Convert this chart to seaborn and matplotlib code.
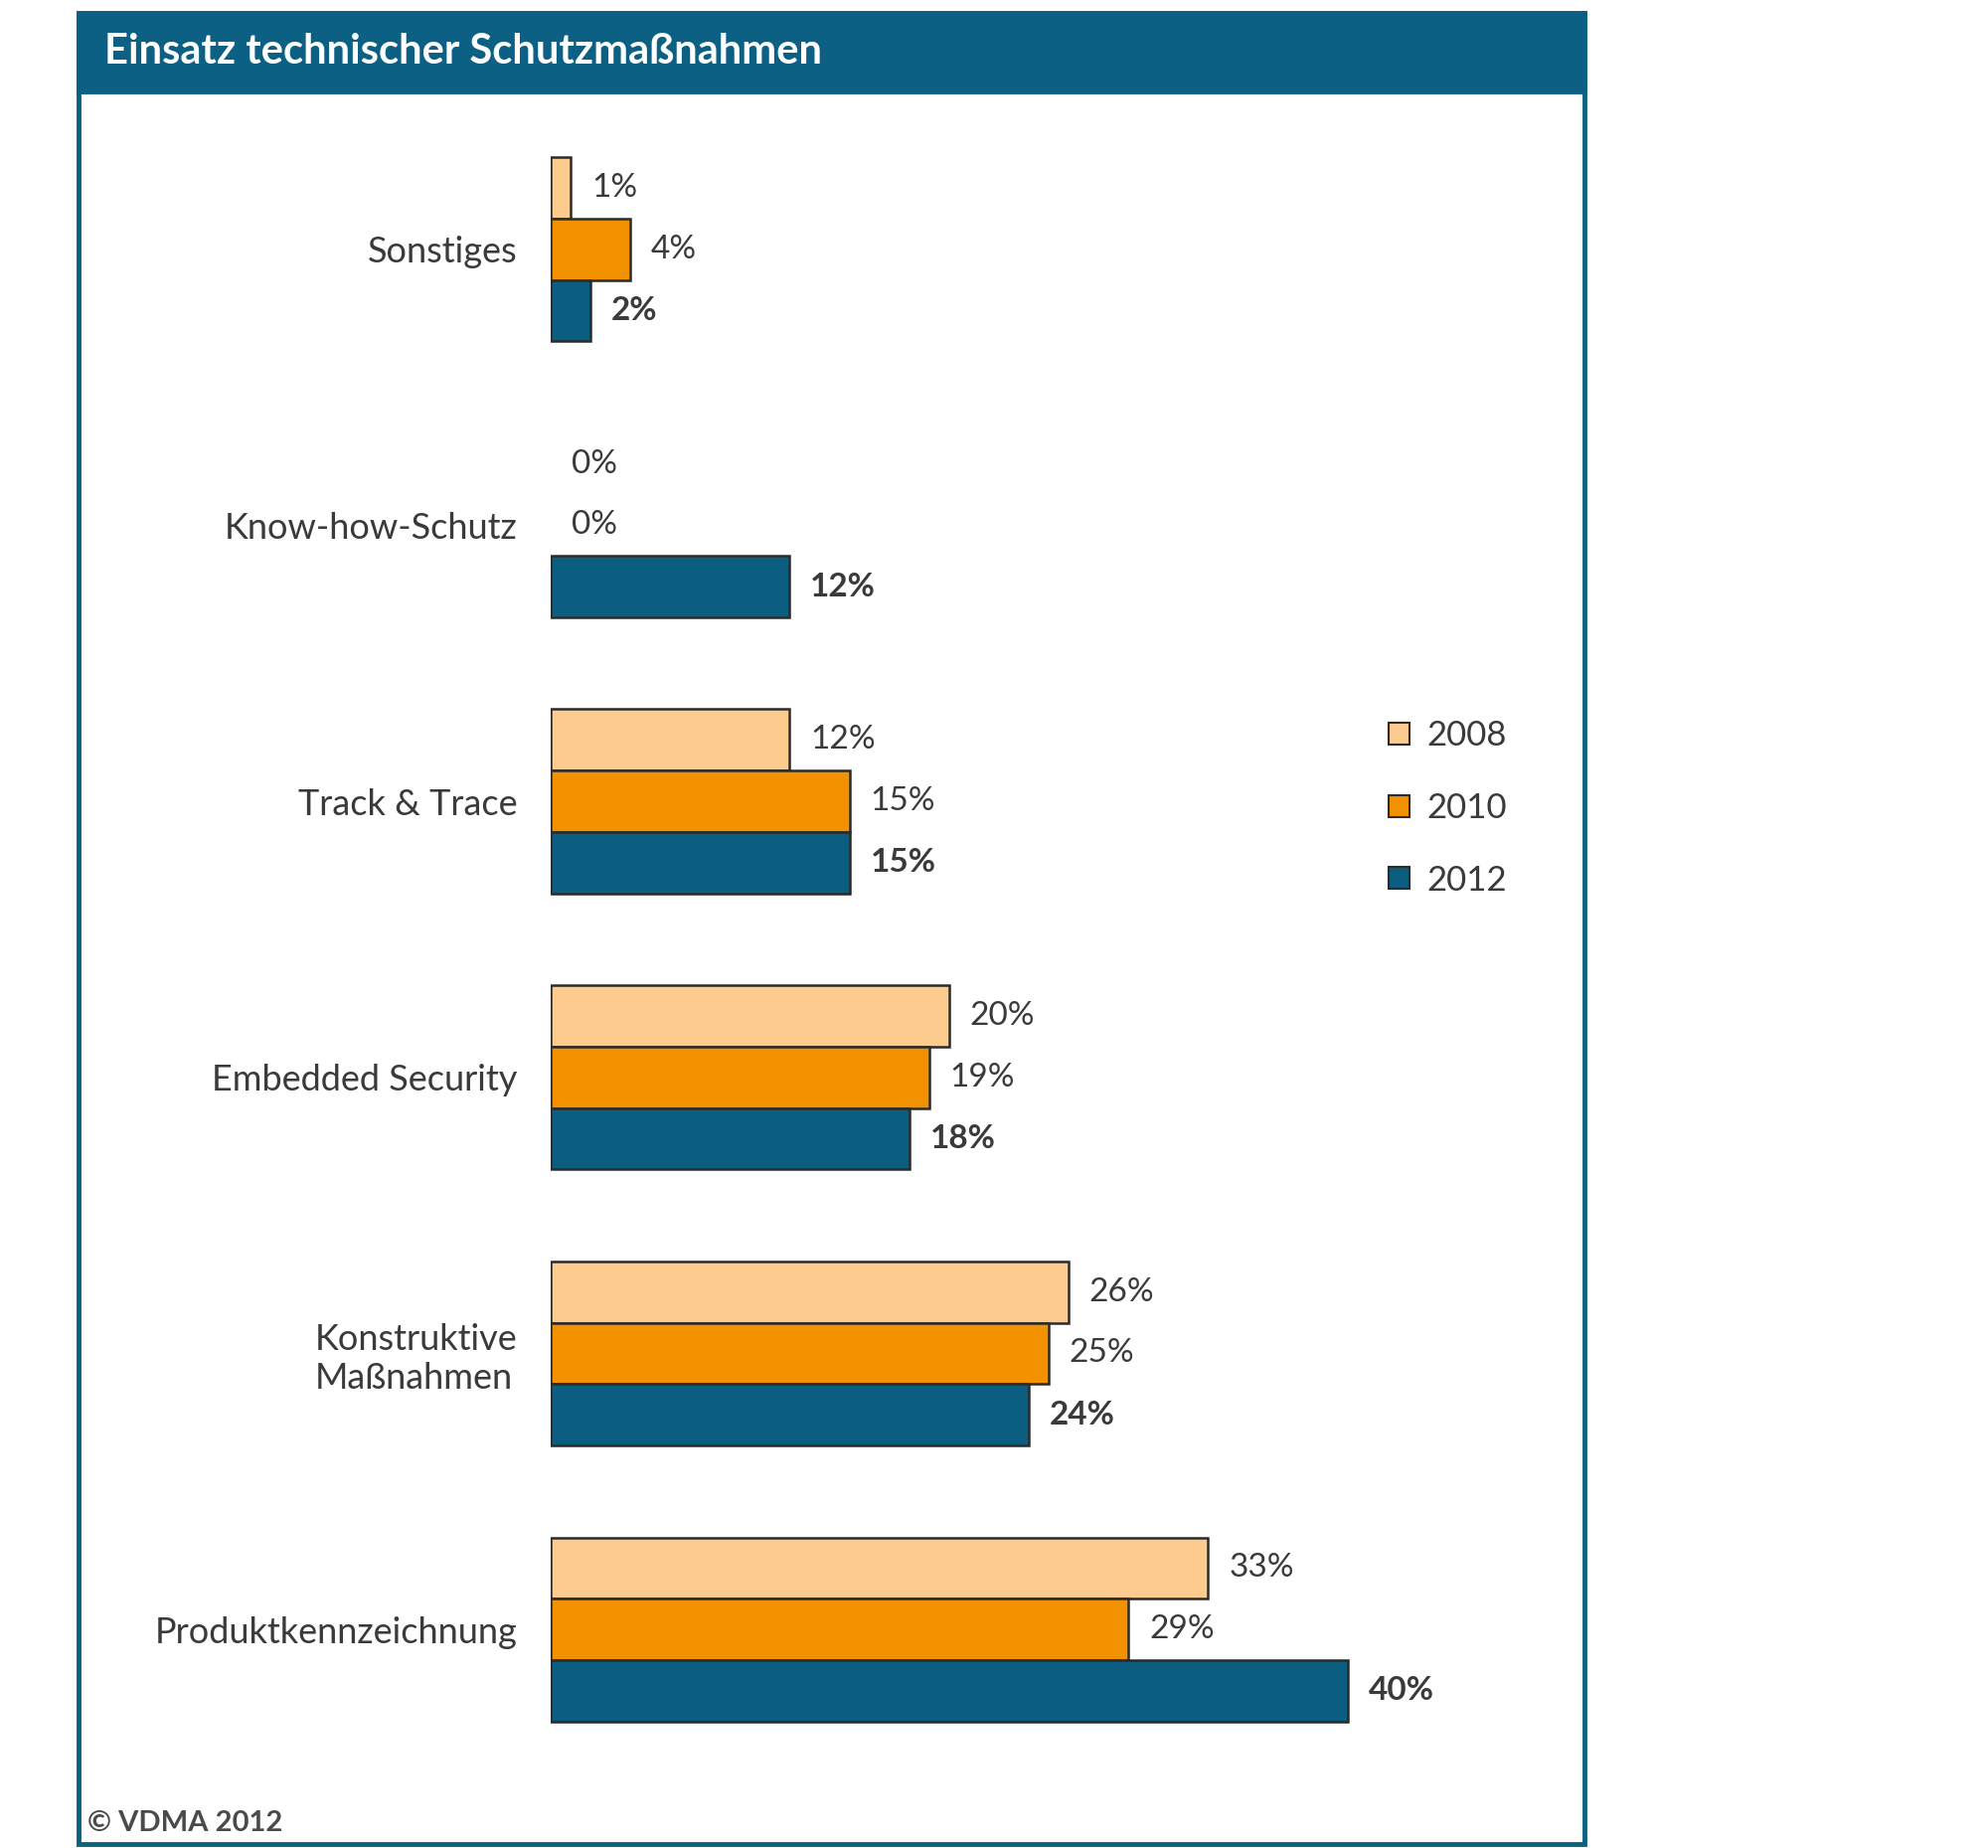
import matplotlib.pyplot as plt
import matplotlib.patches as mpatches
import pandas as pd
import seaborn as sns

categories = ['Sonstiges', 'Know-how-Schutz', 'Track & Trace', 'Embedded Security',
              'Konstruktive\nMaßnahmen', 'Produktkennzeichnung']
years = ['2008', '2010', '2012']
values_2008 = [1, 0, 12, 20, 26, 33]
values_2010 = [4, 0, 15, 19, 25, 29]
values_2012 = [2, 12, 15, 18, 24, 40]

colors = {'2008': '#FCCB8D', '2010': '#F39200', '2012': '#0B5E7F'}
teal = '#0B6084'
text_col = '#3a3a3a'

df = pd.DataFrame({
    'Kategorie': categories * 3,
    'Jahr': ['2008'] * 6 + ['2010'] * 6 + ['2012'] * 6,
    'Anteil': values_2008 + values_2010 + values_2012,
})

sns.set_style('white')
plt.rcParams['font.family'] = ['Lato', 'DejaVu Sans']

fig = plt.figure(figsize=(20, 18.59), dpi=100)
ax = fig.add_axes([0.277, 0.0436, 0.501, 0.8962])

sns.barplot(data=df, y='Kategorie', x='Anteil', hue='Jahr', order=categories,
            hue_order=years, palette=colors, orient='h', width=0.667,
            saturation=1, edgecolor='#2b2b2b', linewidth=1.8, ax=ax, legend=False)

for year, cont in zip(years, ax.containers):
    for bar in cont:
        if bar.get_width() == 0:
            bar.set_linewidth(0)
    ax.bar_label(cont, fmt='%d%%', padding=15, fontsize=24, color=text_col,
                 fontweight='bold' if year == '2012' else 'normal')

ax.set_xlim(0, 50)
ax.set_xlabel('')
ax.set_ylabel('')
ax.set_xticks([])
ax.tick_params(axis='y', length=0, pad=24, labelsize=26, labelcolor=text_col)
for lbl in ax.get_yticklabels():
    lbl.set_multialignment('left')
sns.despine(ax=ax, left=True, bottom=True)

# frame and header band
fig.patches.append(mpatches.Rectangle((79 / 2000, 1 - 1855 / 1859), 1515 / 2000, 1842 / 1859,
                                      transform=fig.transFigure, fill=False,
                                      edgecolor=teal, linewidth=3.5, zorder=0))
fig.patches.append(mpatches.Rectangle((79 / 2000, 1 - 92 / 1859), 1515 / 2000, 79 / 1859,
                                      transform=fig.transFigure, facecolor=teal,
                                      edgecolor=teal, linewidth=3.5, zorder=1))
fig.text(105 / 2000, 1 - 52 / 1859, 'Einsatz technischer Schutzmaßnahmen',
         color='white', fontsize=30, fontweight='bold', va='center', ha='left')
fig.text(88 / 2000, 1 - 1834 / 1859, '© VDMA 2012', color='#4a4a4a',
         fontsize=21, fontweight='bold', va='center', ha='left')

handles = [mpatches.Patch(facecolor=colors[y], edgecolor='#2b2b2b', linewidth=1.5) for y in years]
fig.legend(handles, years, loc='upper left', bbox_to_anchor=(1366 / 2000, 1 - 693 / 1859),
           frameon=False, fontsize=25, handlelength=0.6, handleheight=0.6,
           handletextpad=0.5, labelspacing=1.17, labelcolor=text_col)

fig.savefig('out.png', dpi=100, facecolor='white')
